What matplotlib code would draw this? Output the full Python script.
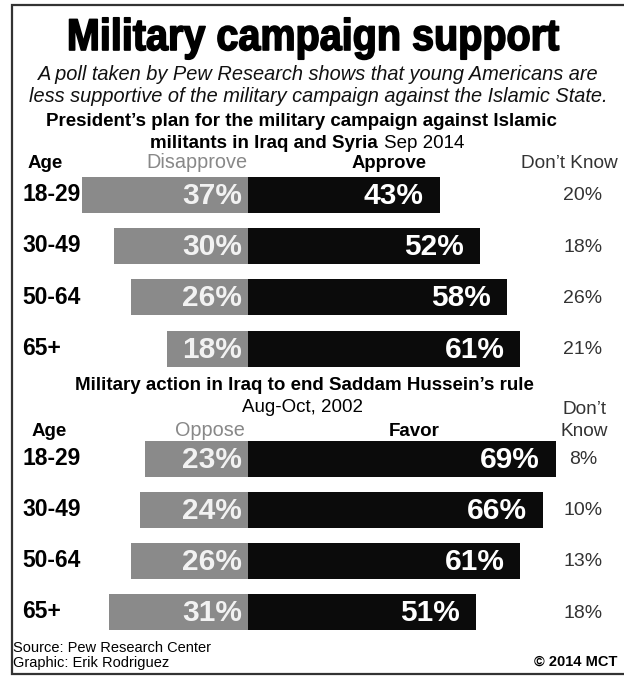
import matplotlib
matplotlib.use("Agg")
import matplotlib.pyplot as plt
from matplotlib import font_manager
from matplotlib.patheffects import AbstractPathEffect
from matplotlib.transforms import Affine2D

# Sep 2014: President's plan against Islamic militants
ages = ["18-29", "30-49", "50-64", "65+"]
disapprove = [37, 30, 26, 18]
approve = [43, 52, 58, 61]
dont_know_2014 = [20, 18, 26, 21]

# Aug-Oct 2002: Military action in Iraq
oppose = [23, 24, 26, 31]
favor = [69, 66, 61, 51]
dont_know_2002 = [8, 10, 13, 18]

GRAY = "#8a8a8a"
BLACK = "#0b0b0b"

names = {f.name for f in font_manager.fontManager.ttflist}
base_font = "Liberation Sans" if "Liberation Sans" in names else "DejaVu Sans"
plt.rcParams["font.family"] = base_font


class Squeeze(AbstractPathEffect):
    """Squeeze glyphs horizontally around cx (display px) and fatten them a bit."""

    def __init__(self, sx, cx, lw=1.0):
        super().__init__()
        self.sx, self.cx, self.lw = sx, cx, lw

    def draw_path(self, renderer, gc, tpath, affine, rgbFace=None):
        squeeze = Affine2D().translate(-self.cx, 0).scale(self.sx, 1).translate(self.cx, 0)
        gc0 = renderer.new_gc()
        gc0.copy_properties(gc)
        gc0.set_linewidth(self.lw)
        gc0.set_foreground(rgbFace if rgbFace is not None else "black")
        renderer.draw_path(gc0, tpath, affine + squeeze, rgbFace)
        gc0.restore()


W, H = 624, 677
fig = plt.figure(figsize=(W / 100, H / 100), dpi=100)
fig.patch.set_facecolor("white")

# canvas axes in pixel units for text and frame
cv = fig.add_axes([0, 0, 1, 1])
cv.set_xlim(0, W)
cv.set_ylim(H, 0)
cv.axis("off")

# bar axes in percent units, split point at x=247.7 px
zero_px, px_per_pct = 247.7, 4.47
ax = fig.add_axes([0, 0, 1, 1], facecolor="none")
ax.set_xlim(-zero_px / px_per_pct, (W - zero_px) / px_per_pct)
ax.set_ylim(H, 0)
ax.axis("off")

# frame (left, top, bottom)
cv.plot([W, 12, 12, W], [5, 5, 674, 674], color="#333333", lw=1.6,
        solid_capstyle="butt", solid_joinstyle="miter")

cv.text(313.5, 50, "Military campaign support", fontsize=32, fontweight="bold",
        ha="center", va="baseline", color="black",
        path_effects=[Squeeze(0.89, 313.5, 1.2)])
cv.text(318, 75, "A poll taken by Pew Research shows that young Americans are",
        fontsize=14.4, style="italic", ha="center", va="center", color="#111111")
cv.text(318, 97, "less supportive of the military campaign against the Islamic State.",
        fontsize=14.4, style="italic", ha="center", va="center", color="#111111")


def section(rows, left, right, dk, y0, step):
    ys = [y0 + step * i for i in range(len(rows))]
    ax.barh(ys, [-v for v in left], height=36, color=GRAY, linewidth=0)
    ax.barh(ys, right, height=36, color=BLACK, linewidth=0)
    for y, a, l, r, d in zip(ys, rows, left, right, dk):
        cv.text(22, y, a, fontsize=16.5, fontweight="bold", ha="left", va="center")
        ax.text(-1.3, y + 1, f"{l}%", fontsize=21.5, fontweight="bold", color="#f2f2f2",
                ha="right", va="center")
        ax.text(r - 3.6, y + 1, f"{r}%", fontsize=21.5, fontweight="bold", color="white",
                ha="right", va="center")
        cv.text(583, y + 1, f"{d}%", fontsize=14, color="#333333",
                ha="center", va="center")


# top section
cv.text(301, 122, "President\u2019s plan for the military campaign against Islamic",
        fontsize=13.5, fontweight="bold", ha="center", va="center")
cv.text(378, 143, "militants in Iraq and Syria", fontsize=13.5, fontweight="bold",
        ha="right", va="center")
cv.text(384, 143, "Sep 2014", fontsize=13.5, ha="left", va="center")
cv.text(28, 163, "Age", fontsize=13.5, fontweight="bold", ha="left", va="center")
cv.text(248, 163, "Disapprove", fontsize=14.3, color="#888888", ha="right", va="center")
cv.text(389, 163, "Approve", fontsize=13.3, fontweight="bold", ha="center", va="center")
cv.text(569, 163, "Don\u2019t Know", fontsize=13.7, color="#333333", ha="center", va="center")
section(ages, disapprove, approve, dont_know_2014, 194.7, 51.3)

# bottom section
cv.text(304, 386, "Military action in Iraq to end Saddam Hussein\u2019s rule",
        fontsize=13.5, fontweight="bold", ha="center", va="center")
cv.text(302, 408, "Aug-Oct, 2002", fontsize=13.5, ha="center", va="center")
cv.text(584, 410, "Don\u2019t", fontsize=13.7, color="#333333", ha="center", va="center")
cv.text(584, 431, "Know", fontsize=13.7, color="#333333", ha="center", va="center")
cv.text(32, 431, "Age", fontsize=13.5, fontweight="bold", ha="left", va="center")
cv.text(245, 431, "Oppose", fontsize=14.3, color="#888888", ha="right", va="center")
cv.text(414, 431, "Favor", fontsize=13.5, fontweight="bold", ha="center", va="center")
section(ages, oppose, favor, dont_know_2002, 458.7, 51.1)

# footer
cv.text(13, 648, "Source: Pew Research Center", fontsize=10.5, ha="left", va="center")
cv.text(13, 663, "Graphic: Erik Rodriguez", fontsize=10.5, ha="left", va="center")
cv.text(617, 662, "\u00a9 2014 MCT", fontsize=10.5, fontweight="bold", ha="right", va="center")

fig.savefig("out.png", dpi=100)
